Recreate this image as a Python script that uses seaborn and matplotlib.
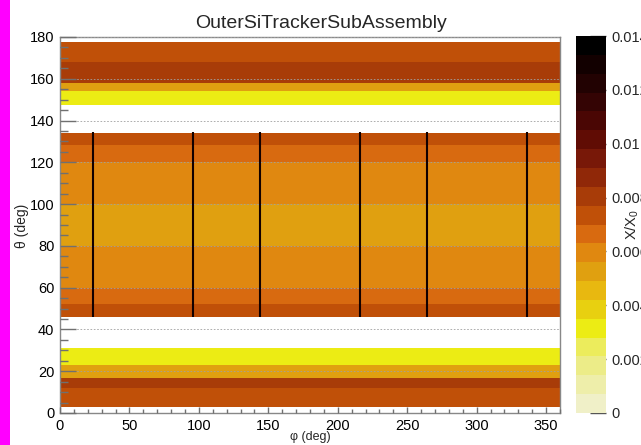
import numpy as np
import pandas as pd
import matplotlib
matplotlib.use("Agg")
import matplotlib.pyplot as plt
from matplotlib.colors import ListedColormap, Normalize
from matplotlib.patches import Rectangle
import seaborn as sns

# ---------------- data ----------------
title = "OuterSiTrackerSubAssembly"
x_label = "\u03c6 (deg)"
y_label = "\u03b8 (deg)"
z_label = "X/X$_0$"

# theta bands (deg) that are uniform in phi, with their X/X0 value
band_theta_lo = [3.0, 12.0, 16.8, 23.0, 45.8, 52.2, 60.0, 80.0, 100.0, 120.0, 128.2, 147.3, 154.1, 158.1, 168.2]
band_theta_hi = [12.0, 16.8, 23.0, 31.0, 52.2, 60.0, 80.0, 100.0, 120.0, 128.2, 134.3, 154.1, 158.1, 168.2, 177.5]
band_value = [0.00735, 0.00805, 0.00525, 0.00315, 0.00735, 0.00665, 0.00595, 0.00525,
              0.00595, 0.00665, 0.00735, 0.00315, 0.00525, 0.00805, 0.00735]

# narrow dense spokes in the barrel region
spoke_phi = [24, 96, 144, 216, 264, 336]
spoke_theta_lo = 45.8
spoke_theta_hi = 134.3
spoke_value = 0.0130

x_ticks = [0, 50, 100, 150, 200, 250, 300, 350]
y_ticks = [0, 20, 40, 60, 80, 100, 120, 140, 160, 180]
z_ticks = [0, 0.002, 0.004, 0.006, 0.008, 0.010, 0.012, 0.014]
z_tick_labels = ["0", "0.002", "0.004", "0.006", "0.008", "0.01", "0.012", "0.014"]

palette = ["#f0f0c8", "#eeeeaa", "#ecec88", "#ecec5c", "#ecec14",
           "#e8d010", "#e8b810", "#e0a010", "#e08810", "#d86a10",
           "#c05008", "#a83c08", "#902808", "#781808", "#600c04",
           "#4a0604", "#340404", "#220202", "#120000", "#000000"]

# ---------------- build histogram ----------------
dth, dph = 0.25, 0.5
theta_c = np.arange(0, 180, dth) + dth / 2
phi_c = np.arange(0, 360, dph) + dph / 2
grid = np.full((len(theta_c), len(phi_c)), np.nan)
for lo, hi, v in zip(band_theta_lo, band_theta_hi, band_value):
    grid[(theta_c >= lo) & (theta_c < hi), :] = v
df = pd.DataFrame(grid[::-1], index=theta_c[::-1], columns=phi_c)

# ---------------- figure ----------------
sns.set_style("white")
plt.rcParams["font.family"] = ["Liberation Sans", "DejaVu Sans"]
plt.rcParams["mathtext.fontset"] = "custom"
plt.rcParams["mathtext.rm"] = "Liberation Sans"
plt.rcParams["mathtext.it"] = "Liberation Sans"

W, H = 641, 445
fig = plt.figure(figsize=(W / 100, H / 100), dpi=100)
fig.patch.set_facecolor("white")
ax = fig.add_axes([60 / W, 32 / H, 500 / W, 376 / H])
cax = fig.add_axes([576 / W, 32 / H, 30 / W, 377 / H])

cmap = ListedColormap(palette)
norm = Normalize(vmin=0, vmax=0.014)
sns.heatmap(df, ax=ax, cbar_ax=cax, cmap=cmap, vmin=0, vmax=0.014,
            xticklabels=False, yticklabels=False,
            cbar_kws={"ticks": z_ticks})
ax.set_facecolor("white")
ax.set_xlabel("")
ax.set_ylabel("")

# spokes drawn in the heatmap's index coordinates
ax.vlines([p / dph for p in spoke_phi],
          (180 - spoke_theta_hi) / dth, (180 - spoke_theta_lo) / dth,
          colors=[cmap(norm(spoke_value))], linewidth=1.5, zorder=3)

# axis ticks (index coordinates of the heatmap)
ax.set_xticks([p / dph for p in x_ticks])
ax.set_xticklabels([str(p) for p in x_ticks])
ax.set_xticks([p / dph for p in range(0, 361, 10)], minor=True)
ax.set_yticks([(180 - t) / dth for t in y_ticks])
ax.set_yticklabels([str(t) for t in y_ticks])
ax.set_yticks([(180 - t) / dth for t in range(0, 181, 5)], minor=True)
ax.tick_params(axis="both", labelsize=10.5, colors="black")
ax.tick_params(axis="y", which="major", direction="in", length=11.5, width=1,
               color="#707070", pad=4, left=True, right=False, labelrotation=0)
ax.tick_params(axis="y", which="minor", direction="in", length=5.8, width=1,
               color="#707070", left=True, right=False)
ax.tick_params(axis="x", which="major", direction="in", length=4.3, width=1,
               color="#707070", pad=4, bottom=True, top=False, labelrotation=0)
ax.tick_params(axis="x", which="minor", direction="in", length=2.9, width=1,
               color="#707070", bottom=True, top=False)

for s in ax.spines.values():
    s.set_visible(True)
    s.set_color("#888888")
    s.set_linewidth(1)

# horizontal grid lines
ax.yaxis.grid(True, which="major", color="#a0a0a0", linestyle=(0, (2, 2)), linewidth=0.6)
ax.xaxis.grid(False)
ax.set_axisbelow(False)

# colorbar styling
cbar = ax.collections[0].colorbar
cbar.outline.set_visible(False)
cbar.set_ticks(z_ticks)
cbar.set_ticklabels(z_tick_labels)
cax.tick_params(direction="in", length=11.5, width=1, color="#555555",
                labelsize=10.5, pad=4)
cax.minorticks_off()

# texts
fig.text(0.5, 1 - 28 / H, title, ha="center", va="baseline", fontsize=14)
fig.text(310 / W, 1 - 437 / H, x_label, ha="center", va="center", fontsize=9)
fig.text(22 / W, 1 - 226 / H, y_label, ha="center", va="center", rotation=90, fontsize=10)
fig.text(632 / W, 1 - 224 / H, z_label, ha="center", va="center", rotation=90, fontsize=10.5)

# magenta strip on the left edge
fig.patches.append(Rectangle((0, 0), 10 / W, 1, transform=fig.transFigure,
                             facecolor="#ff00ff", edgecolor="none", zorder=10))

fig.savefig("out.png", dpi=100)
